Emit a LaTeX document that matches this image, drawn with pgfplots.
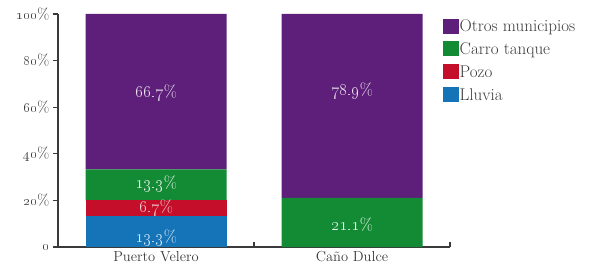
\documentclass[border=0pt]{standalone}
\usepackage{pgfplots}
\usepackage{pgfplotstable}
\pgfplotsset{compat=1.18}
\definecolor{cpurple}{HTML}{5E1F7A}
\definecolor{cgreen}{HTML}{138B35}
\definecolor{cred}{HTML}{C50F2A}
\definecolor{cblue}{HTML}{1573B8}
\definecolor{axgray}{HTML}{3A3A3A}
\pgfplotstableread{
x lluvia pozo carro otros
0 13.3 6.7 13.3 66.7
1 0 0 21.1 78.9
}\datatab
\begin{document}
\begin{tikzpicture}
\useasboundingbox (-58pt,-26pt) rectangle (535pt,247pt);
\begin{axis}[
  scale only axis, width=392pt, height=233pt,
  ybar stacked, bar width=141pt,
  xmin=-0.5, xmax=1.5, ymin=0, ymax=100,
  axis x line=bottom, axis y line=left,
  axis line style={axgray, line width=1.6pt, -},
  tick style={axgray, line width=1.2pt},
  tick align=outside, major tick length=5pt,
  xtick={0.5,1.5}, xticklabels={},
  xtick style={yshift=5pt},
  extra x ticks={0,1}, extra x tick labels={Puerto Velero, Caño Dulce},
  extra x tick style={major tick length=0pt, tick label style={yshift=-1pt}},
  ytick={0,20,40,60,80,100},
  yticklabels={\oldstylenums{0}, \oldstylenums{20}\%, \oldstylenums{40}\%, \oldstylenums{60}\%, \oldstylenums{80}\%, \oldstylenums{100}\%},
  tick label style={font=\fontsize{14.5}{16}\selectfont, text=axgray},
  y tick label style={font=\fontsize{15.5}{17}\selectfont},
  reverse legend,
  legend cell align=left,
  legend style={at={(rel axis cs:0.982,1)}, anchor=north west, yshift=-4.5pt, draw=none, fill=none,
    font=\fontsize{17}{19}\selectfont, row sep=7.6pt, inner sep=0pt,
    nodes={inner sep=0.5pt, text=axgray}},
  legend image code/.code={\fill[#1] (0pt,-7pt) rectangle (16pt,8pt);},
]
\addplot[fill=cblue, draw=none] table[x=x, y=lluvia] {\datatab};
\addplot[fill=cred, draw=none] table[x=x, y=pozo] {\datatab};
\addplot[fill=cgreen, draw=none] table[x=x, y=carro] {\datatab};
\addplot[fill=cpurple, draw=none] table[x=x, y=otros] {\datatab};
\legend{Lluvia, Pozo, Carro tanque, Otros municipios}
\coordinate (l1) at (axis cs:0,66);
\coordinate (l2) at (axis cs:0,27);
\coordinate (l3) at (axis cs:0,16.8);
\coordinate (l4) at (axis cs:0,4);
\coordinate (l5) at (axis cs:1,67);
\coordinate (l6) at (axis cs:1,9.5);
\end{axis}
\begin{scope}[every node/.style={font=\fontsize{17}{19}\selectfont}]
\node[text=white!88!cpurple] at (l1) {\oldstylenums{66.7}\%};
\node[text=white!92!cgreen] at (l2) {\oldstylenums{13.3}\%};
\node[text=white!80!cred] at (l3) {\oldstylenums{6.7}\%};
\node[text=white!85!cblue] at (l4) {\oldstylenums{13.3}\%};
\node[text=white!88!cpurple] at (l5) {\oldstylenums{78.9}\%};
\node[text=white!92!cgreen] at (l6) {\oldstylenums{21.1}\%};
\end{scope}
\end{tikzpicture}
\end{document}
